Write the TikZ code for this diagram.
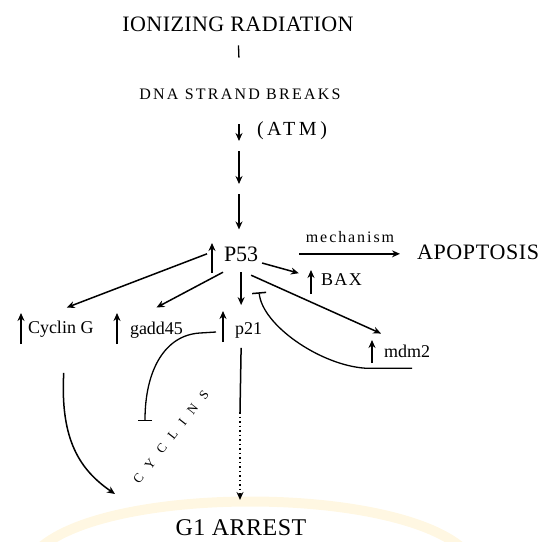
\documentclass[tikz,border=0pt]{standalone}
\usepackage{fontspec}
\setmainfont{Liberation Serif}
\usetikzlibrary{arrows.meta}
\definecolor{glow}{RGB}{255,247,226}
\begin{document}
\begin{tikzpicture}[x=1pt,y=-1pt,
  lbl/.style={inner sep=1pt, outer sep=0pt, text=black},
  arr/.style={line width=1.5pt, -{Stealth[length=8pt,width=7pt]}},
  upind/.style={line width=1.7pt, -{Stealth[length=8pt,width=7pt]}},
  inh/.style={line width=1.3pt, -{Bar[width=14pt,line width=1.5pt]}},
  plain/.style={line width=1.3pt},
  dotline/.style={line width=1.5pt, dash pattern=on 1.5pt off 3pt},
  f22/.style={font=\fontsize{22}{24}\selectfont},
  f18/.style={font=\fontsize{18}{20}\selectfont},
  f16/.style={font=\fontsize{16}{18}\selectfont}]
\useasboundingbox (0,0) rectangle (539,542);
% faint background glow
\draw[line width=10pt, glow] (40,548) .. controls (110,486) and (390,486) .. (462,548);
% nodes
\node[lbl, f22] (ion) at (238,24) {\addfontfeatures{LetterSpace=2}IONIZING RADIATION};
\node[lbl, font=\fontsize{16}{18}\selectfont] (dna) at (240,94) {\addfontfeatures{LetterSpace=14}DNA STRAND BREAKS};
\node[lbl, font=\fontsize{20}{22}\selectfont, anchor=west] (atm) at (256,131) {\addfontfeatures{LetterSpace=18}(ATM)};
\coordinate (k1) at (239,146);
\coordinate (k2) at (239,189);
\node[lbl, f22, anchor=base west] (p53) at (223,261) {P53};
\node[lbl, f16] (mech) at (350,237) {\addfontfeatures{LetterSpace=12}mechanism};
\node[lbl, f22, anchor=west] (apop) at (416,252) {\addfontfeatures{LetterSpace=3}APOPTOSIS};
\node[lbl, f18, anchor=base west] (bax) at (320,285) {\addfontfeatures{LetterSpace=8}BAX};
\node[lbl, f18, anchor=base west] (cg) at (27,333) {Cyclin G};
\node[lbl, f18, anchor=base west] (gadd) at (129,334) {gadd45};
\node[lbl, f18, anchor=base west] (p21) at (234,334) {p21};
\node[lbl, f18, anchor=base west] (mdm) at (383,357) {mdm2};
\node[lbl, font=\fontsize{13}{15}\selectfont, rotate=52] (cyc) at (171,437) {\addfontfeatures{LetterSpace=75}CYCLINS};
\node[lbl, font=\fontsize{24}{26}\selectfont] (g1) at (241,528) {\addfontfeatures{LetterSpace=2}G1 ARREST};
\coordinate (m1) at (240,412);
\coordinate (cyT) at (145,421);
\coordinate (cgT) at (115,494);
% up indicators
\draw[upind] ([shift={(-11,12)}]p53.base west) -- ([shift={(-11,-18)}]p53.base west);
\draw[upind] ([shift={(-9,9)}]bax.base west) -- ([shift={(-9,-15)}]bax.base west);
\draw[upind] ([shift={(-6,11)}]cg.base west) -- ([shift={(-6,-20)}]cg.base west);
\draw[upind] ([shift={(-12,10)}]gadd.base west) -- ([shift={(-12,-21)}]gadd.base west);
\draw[upind] ([shift={(-11,8)}]p21.base west) -- ([shift={(-11,-23)}]p21.base west);
\draw[upind] ([shift={(-11,6)}]mdm.base west) -- ([shift={(-11,-17)}]mdm.base west);
% main chain
\draw[plain, shorten <=13pt, shorten >=30pt] (ion.south) -- (dna.north);
\draw[arr, shorten <=24pt, shorten >=5pt] (dna.south -| k1) -- (k1);
\draw[arr, shorten <=5pt, shorten >=5pt] (k1) -- (k2);
\draw[arr, shorten <=5pt, shorten >=16pt] (k2) -- (k2 |- p53.north);
% p53 outputs
\draw[arr, shorten <=40pt, shorten >=16pt] (p53.east) -- (p53.east -| apop.west);
\draw[arr, shorten <=3pt, shorten >=22pt] (p53.south east) -- (bax.west);
\draw[arr] ([shift={(-16,0)}]p53.west) -- ([shift={(6,-12)}]cg.north);
\draw[arr] ([shift={(0,10)}]p53.south west) -- ([shift={(0,-13)}]gadd.north);
\draw[arr] ([shift={(0,10)}]p53.south) -- ([shift={(0,-16)}]p53.south |- p21.north);
\draw[arr] ([shift={(10,13)}]p53.south) -- ([shift={(-2,-10)}]mdm.north west);
% mdm2 inhibits p53
\draw[inh] ([shift={(29,10)}]mdm.south west) -- ([shift={(-18,10)}]mdm.south west)
   .. controls (320,365) and (262,325) .. ([shift={(18,30)}]p53.south);
% p21 inhibits cyclins
\draw[inh] ([shift={(-18,-2)}]p21.base west) -- (200,333)
   .. controls (165,335) and (145,370) .. (cyT);
% cyclin G curve
\draw[arr] ([shift={(3,35)}]cg.south) .. controls (60,440) and (80,470) .. (cgT);
% p21 to G1 arrest
\draw[plain, line width=1.5pt] ([shift={(0,9)}]p53.south |- p21.south) -- (m1);
\draw[dotline, -{Stealth[length=8pt,width=7pt]}, shorten >=19pt] (m1) -- (m1 |- g1.north);
\end{tikzpicture}
\end{document}
